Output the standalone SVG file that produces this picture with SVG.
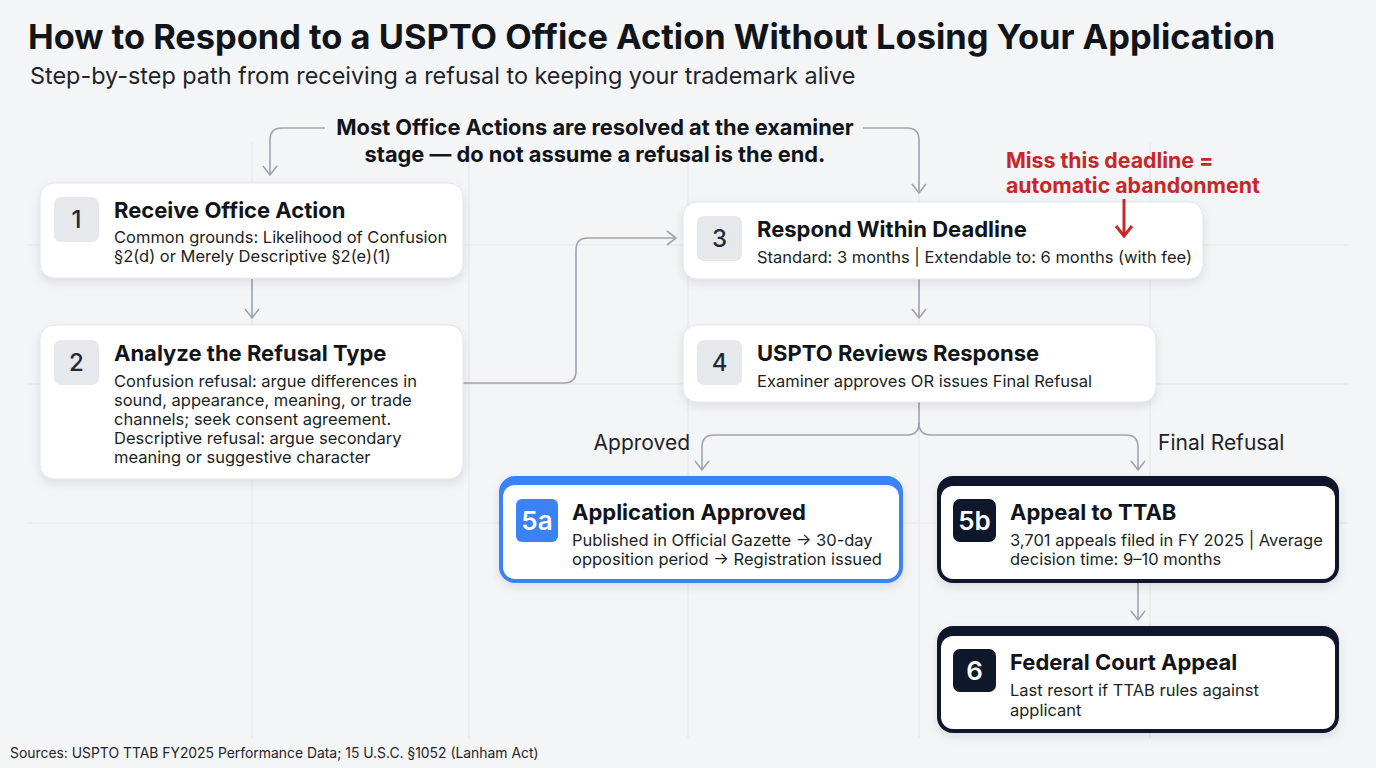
<svg xmlns="http://www.w3.org/2000/svg" width="1376" height="768" viewBox="0 0 1376 768">
<defs>
<style>
text{font-family:Inter,"Noto Sans","Liberation Sans",sans-serif;fill:#111418}
.h1{font-size:34.4px;font-weight:700}
.sub{font-size:23.4px;fill:#1f2329}
.t{font-size:22px;font-weight:700}
.d{font-size:16.5px;fill:#1c1f24}
.num{font-size:24px;font-weight:500;text-anchor:middle;fill:#1f2937}
.numw{font-size:26px;font-weight:600;text-anchor:middle;fill:#ffffff}
.call{font-size:21.8px;font-weight:700;text-anchor:middle}
.red{font-size:21.3px;font-weight:700;fill:#c62828}
.lbl{font-size:21px;fill:#1f2329}
.src{font-size:13.9px;fill:#1f2329}
.grid{stroke:#e3e6eb;stroke-width:1}
.card{fill:#ffffff;stroke:#e1e4e9;stroke-width:1}
.badge{fill:#e6e8ec}
.inner{fill:#ffffff}
.conn{fill:none;stroke:#9ea4ad;stroke-width:1.6}
</style>
<marker id="ah" viewBox="0 0 12 16" refX="10" refY="8" markerWidth="12" markerHeight="16" markerUnits="userSpaceOnUse" orient="auto">
<path d="M1,1 L10,8 L1,15" fill="none" stroke="#9ea4ad" stroke-width="1.6"/>
</marker>
<marker id="ar" viewBox="0 0 14 20" refX="12" refY="10" markerWidth="14" markerHeight="20" markerUnits="userSpaceOnUse" orient="auto">
<path d="M2,2 L12,10 L2,18" fill="none" stroke="#c62828" stroke-width="3"/>
</marker>
<filter id="sh" x="-10%" y="-20%" width="120%" height="150%">
<feDropShadow dx="0" dy="4" stdDeviation="5" flood-color="#0f172a" flood-opacity="0.10"/>
</filter>
</defs>
<rect x="0" y="0" width="1376" height="768" fill="#f4f5f7"/>
<g id="grid">
<line class="grid" x1="252" y1="143" x2="252" y2="738"/>
<line class="grid" x1="469" y1="143" x2="469" y2="738"/>
<line class="grid" x1="688" y1="143" x2="688" y2="738"/>
<line class="grid" x1="919" y1="143" x2="919" y2="738"/>
<line class="grid" x1="1150" y1="143" x2="1150" y2="738"/>
<line class="grid" x1="28" y1="245" x2="1348" y2="245"/>
<line class="grid" x1="28" y1="384" x2="1348" y2="384"/>
<line class="grid" x1="28" y1="523" x2="1348" y2="523"/>
</g>
<g id="title">
<text class="h1" x="28" y="49">How to Respond to a USPTO Office Action Without Losing Your Application</text>
<text class="sub" x="30" y="84">Step-by-step path from receiving a refusal to keeping your trademark alive</text>
</g>
<g id="connectors">
<path class="conn" d="M325,128 H282 Q270,128 270,140 V175" marker-end="url(#ah)"/>
<path class="conn" d="M863,128 H907 Q919,128 919,140 V193" marker-end="url(#ah)"/>
<path class="conn" d="M252,279 V318" marker-end="url(#ah)"/>
<path class="conn" d="M463,383 H564 Q576,383 576,371 V250 Q576,238 588,238 H676" marker-end="url(#ah)"/>
<path class="conn" d="M919,279 V318" marker-end="url(#ah)"/>
<path class="conn" d="M919,402 V423 Q919,435 907,435 H714 Q702,435 702,447 V470" marker-end="url(#ah)"/>
<path class="conn" d="M919,423 Q919,435 931,435 H1126 Q1138,435 1138,447 V470" marker-end="url(#ah)"/>
<path class="conn" d="M1138,583 V620" marker-end="url(#ah)"/>
</g>
<g id="callout">
<text class="call" x="595" y="135">Most Office Actions are resolved at the examiner</text>
<text class="call" x="595" y="162">stage — do not assume a refusal is the end.</text>
</g>
<g id="labels">
<text class="lbl" x="690" y="450" text-anchor="end">Approved</text>
<text class="lbl" x="1158" y="450">Final Refusal</text>
</g>
<g id="node1">
<rect class="card" x="40" y="183" width="423" height="95" rx="14" filter="url(#sh)"/>
<rect class="badge" x="54" y="197" width="45" height="45" rx="7"/>
<text class="num" x="76.5" y="228">1</text>
<text class="t" x="114" y="218">Receive Office Action</text>
<text class="d" x="114" y="243">Common grounds: Likelihood of Confusion</text>
<text class="d" x="114" y="262">§2(d) or Merely Descriptive §2(e)(1)</text>
</g>
<g id="node2">
<rect class="card" x="40" y="325" width="423" height="154" rx="14" filter="url(#sh)"/>
<rect class="badge" x="54" y="340" width="45" height="45" rx="7"/>
<text class="num" x="76.5" y="371">2</text>
<text class="t" x="114" y="361">Analyze the Refusal Type</text>
<text class="d" x="114" y="387">Confusion refusal: argue differences in</text>
<text class="d" x="114" y="406">sound, appearance, meaning, or trade</text>
<text class="d" x="114" y="425">channels; seek consent agreement.</text>
<text class="d" x="114" y="444">Descriptive refusal: argue secondary</text>
<text class="d" x="114" y="463">meaning or suggestive character</text>
</g>
<g id="node3">
<rect class="card" x="683" y="202" width="520" height="77" rx="14" filter="url(#sh)"/>
<rect class="badge" x="697" y="216" width="45" height="45" rx="7"/>
<text class="num" x="719.5" y="247">3</text>
<text class="t" x="757" y="237">Respond Within Deadline</text>
<text class="d" x="757" y="263">Standard: 3 months | Extendable to: 6 months (with fee)</text>
</g>
<g id="node4">
<rect class="card" x="683" y="325" width="473" height="77" rx="14" filter="url(#sh)"/>
<rect class="badge" x="697" y="340" width="45" height="45" rx="7"/>
<text class="num" x="719.5" y="371">4</text>
<text class="t" x="757" y="361">USPTO Reviews Response</text>
<text class="d" x="757" y="387">Examiner approves OR issues Final Refusal</text>
</g>
<g id="node5a">
<rect x="499" y="476" width="404" height="107" rx="16" fill="#3b82f6" filter="url(#sh)"/>
<rect class="inner" x="503" y="485" width="396" height="94" rx="12"/>
<rect x="516" y="499" width="42" height="43" rx="6" fill="#3b82f6"/>
<text class="numw" x="537" y="530">5a</text>
<text class="t" x="572" y="520">Application Approved</text>
<text class="d" x="572" y="546">Published in Official Gazette → 30-day</text>
<text class="d" x="572" y="565">opposition period → Registration issued</text>
</g>
<g id="node5b">
<rect x="937" y="476" width="402" height="107" rx="16" fill="#0f172a" filter="url(#sh)"/>
<rect class="inner" x="941" y="486" width="394" height="93" rx="12"/>
<rect x="953" y="499" width="43" height="43" rx="7" fill="#0f172a"/>
<text class="numw" x="974.5" y="530">5b</text>
<text class="t" x="1010" y="520">Appeal to TTAB</text>
<text class="d" x="1010" y="546">3,701 appeals filed in FY 2025 | Average</text>
<text class="d" x="1010" y="565">decision time: 9–10 months</text>
</g>
<g id="node6">
<rect x="937" y="626" width="402" height="107" rx="16" fill="#0f172a" filter="url(#sh)"/>
<rect class="inner" x="941" y="636" width="394" height="93" rx="12"/>
<rect x="953" y="649" width="43" height="43" rx="7" fill="#0f172a"/>
<text class="numw" x="974.5" y="680">6</text>
<text class="t" x="1010" y="670">Federal Court Appeal</text>
<text class="d" x="1010" y="696">Last resort if TTAB rules against</text>
<text class="d" x="1010" y="716">applicant</text>
</g>
<g id="warning">
<text class="red" x="1006" y="168">Miss this deadline =</text>
<text class="red" x="1006" y="193">automatic abandonment</text>
<line x1="1124" y1="199" x2="1124" y2="236" stroke="#c62828" stroke-width="3" marker-end="url(#ar)"/>
</g>
<g id="footer">
<text class="src" x="10" y="758">Sources: USPTO TTAB FY2025 Performance Data; 15 U.S.C. §1052 (Lanham Act)</text>
</g>
</svg>
